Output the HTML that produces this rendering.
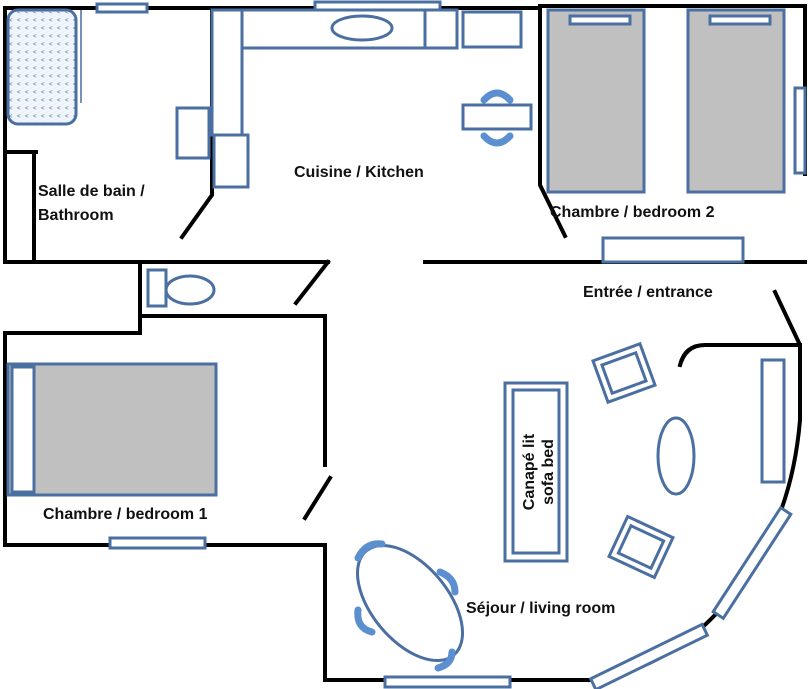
<!DOCTYPE html>
<html><head><meta charset="utf-8"><style>
html,body{margin:0;padding:0;background:#fff;}
svg{display:block;}
text{font-family:"Liberation Sans",sans-serif;font-weight:bold;font-size:16px;fill:#111;}
</style></head><body>
<svg width="808" height="689" viewBox="0 0 808 689" xmlns="http://www.w3.org/2000/svg">
<defs>
<pattern id="dots" width="8" height="8" patternUnits="userSpaceOnUse">
<rect width="8" height="8" fill="#eef4fa"/>
<text x="1" y="6" style="font-size:6px;font-weight:normal;fill:#4a6fa0">&lt;</text>
</pattern>
</defs>
<g fill="none" stroke="#000" stroke-width="4" stroke-linecap="square">
<polyline points="5,8 540,8"/>
<polyline points="540,6 805,6"/>
<polyline points="540,6 540,185 565,236"/>
<polyline points="805,6 805,174"/>
<polyline points="425,262 805,262"/>
<polyline points="5,8 5,262 140,262 140,333 5,333 5,545 325,545 325,680 590,680"/>
<polyline points="212,10 212,195 182,237"/>
<polyline points="5,152 36,152"/>
<polyline points="34,152 34,262"/>
<polyline points="140,262 328,262"/>
<polyline points="328,262 296,303"/>
<polyline points="140,316 325,316"/>
<polyline points="325,316 325,465"/>
<polyline points="330,478 305,518"/>
<path d="M590,680 Q660,672 715,615 Q790,540 800,420 L800,345 L775,292"/>
<path d="M680,365 Q685,345 705,345 L800,345"/>
</g>
<g fill="#fff" stroke="#4a6fa0" stroke-width="3">
<rect x="97" y="4" width="50" height="8"/>
<rect x="315" y="2" width="125" height="8"/>
<rect x="8" y="10" width="68" height="114" rx="10" fill="url(#dots)"/>
<line x1="81" y1="10" x2="81" y2="103" stroke-width="1.5"/>
<rect x="212" y="10" width="30" height="125"/>
<rect x="242" y="10" width="183" height="38"/>
<ellipse cx="362" cy="28" rx="30" ry="12"/>
<rect x="425" y="10" width="32" height="38"/>
<rect x="463" y="12" width="58" height="35"/>
<rect x="177" y="108" width="32" height="50"/>
<rect x="214" y="135" width="34" height="52"/>
<rect x="463" y="105" width="68" height="24"/>
<rect x="548" y="10" width="96" height="182" fill="#c0c0c0"/>
<rect x="570" y="16" width="60" height="8"/>
<rect x="688" y="10" width="96" height="182" fill="#c0c0c0"/>
<rect x="710" y="16" width="60" height="8"/>
<rect x="795" y="88" width="10" height="85"/>
<rect x="603" y="238" width="140" height="24"/>
<rect x="148" y="270" width="18" height="36"/>
<ellipse cx="190" cy="290" rx="24" ry="14"/>
<rect x="8" y="364" width="208" height="131" fill="#c0c0c0"/>
<rect x="12" y="367" width="22" height="125"/>
<rect x="110" y="538" width="95" height="10"/>
<rect x="505" y="383" width="62" height="178"/>
<rect x="513" y="390" width="46" height="163"/>
<g transform="translate(624,373) rotate(-20)"><rect x="-25" y="-22" width="50" height="44"/><rect x="-18" y="-15" width="36" height="30"/></g>
<g transform="translate(641,547) rotate(25)"><rect x="-25" y="-22" width="50" height="44"/><rect x="-18" y="-15" width="36" height="30"/></g>
<ellipse cx="676" cy="456" rx="18" ry="38"/>
<rect x="762" y="360" width="22" height="122"/>
<ellipse cx="410" cy="603" rx="38" ry="68" transform="rotate(-40 410 603)"/>
<rect x="385" y="677" width="125" height="10"/>
<g transform="translate(752,563) rotate(-57)"><rect x="-62" y="-6" width="124" height="12"/></g>
<g transform="translate(649,657) rotate(-26)"><rect x="-62" y="-6" width="124" height="12"/></g>
</g>
<g fill="none" stroke="#5b8fd0" stroke-width="7" stroke-linecap="round">
<path d="M484,100 Q497,86 510,100"/>
<path d="M484,136 Q497,150 510,136"/>
<path d="M358,558 Q366,542 382,544"/>
<path d="M440,572 Q455,578 455,592"/>
<path d="M358,610 Q356,628 372,632"/>
<path d="M452,652 Q452,664 438,668"/>
</g>
<text x="38" y="196">Salle de bain /</text>
<text x="38" y="220">Bathroom</text>
<text x="294" y="177">Cuisine / Kitchen</text>
<text x="550" y="217">Chambre / bedroom 2</text>
<text x="583" y="297">Entrée / entrance</text>
<text x="43" y="519">Chambre / bedroom 1</text>
<text x="466" y="613">Séjour / living room</text>
<text transform="translate(534,472) rotate(-90)" text-anchor="middle">Canapé lit</text>
<text transform="translate(553,472) rotate(-90)" text-anchor="middle">sofa bed</text>
</svg>
</body></html>
